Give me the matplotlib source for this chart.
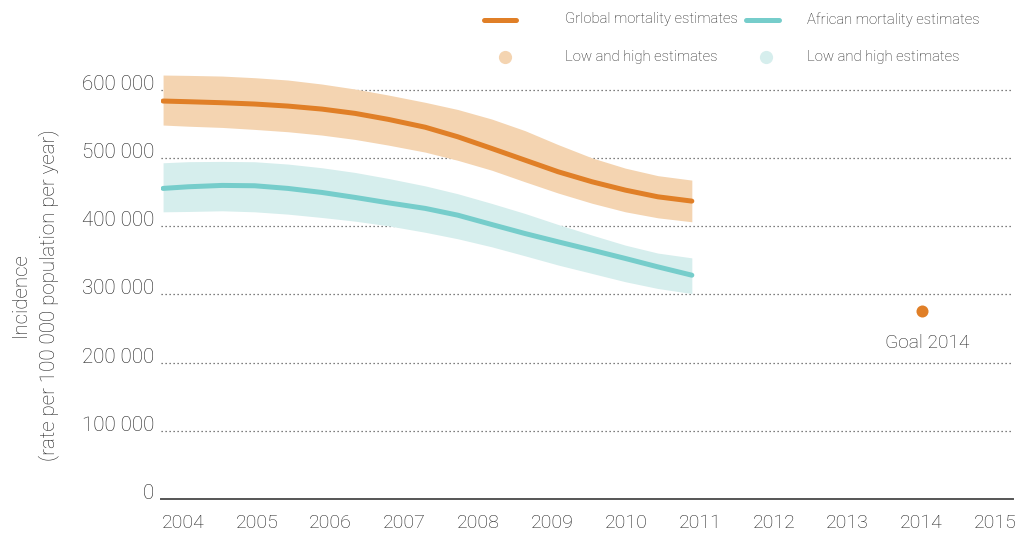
import matplotlib
matplotlib.use("Agg")
import matplotlib.pyplot as plt
from matplotlib.lines import Line2D

# ---------------- data ----------------
years = [2003.73, 2004.07, 2004.53, 2004.97, 2005.42, 2005.88, 2006.33, 2006.78,
         2007.28, 2007.72, 2008.18, 2008.63, 2009.08, 2009.54, 2009.99, 2010.43, 2010.89]

global_mid = [583400, 582400, 580900, 579000, 576000, 571600, 565300, 556500,
              545000, 531000, 513900, 496800, 479700, 465000, 452800, 443000, 436700]
global_high = [621500, 621000, 620000, 617600, 614200, 608300, 601000, 592200,
               581500, 571000, 557000, 540000, 519500, 500000, 485000, 474000, 467500]
global_low = [548200, 546500, 544700, 541800, 538400, 533500, 527100, 518800,
              508500, 496500, 482000, 465000, 448500, 433500, 421000, 412200, 406400]

africa_mid = [455300, 457700, 459700, 459200, 455300, 449400, 442100, 434200,
              426000, 416100, 402400, 389200, 377000, 364800, 352600, 340300, 328100]
africa_high = [492900, 494500, 494900, 494400, 491000, 485600, 478700, 469900,
               459000, 447500, 433300, 418600, 402400, 386800, 372100, 360500, 353500]
africa_low = [421000, 421500, 422500, 421000, 417600, 412700, 407300, 400500,
              391000, 381500, 369700, 356500, 343000, 330600, 318500, 308600, 301200]

goal_year = [2014]
goal_value = [276000]

xtick_years = list(range(2004, 2016))
ytick_values = [0, 100000, 200000, 300000, 400000, 500000, 600000]
ytick_labels = ["0", "100 000", "200 000", "300 000", "400 000", "500 000", "600 000"]

legend_labels = ["Grlobal mortality estimates", "African mortality estimates",
                 "Low and high estimates", "Low and high estimates"]

# ---------------- style ----------------
ORANGE = "#E07F27"
ORANGE_BAND = "#F4D4B1"
TEAL = "#76CDCB"
TEAL_BAND = "#D6EEED"
TEXT = "#1E1E1E"
W, H = 1015, 535

plt.rcParams["font.family"] = ["Roboto", "DejaVu Sans"]
plt.rcParams["font.weight"] = "light"

fig = plt.figure(figsize=(W / 100, H / 100), dpi=100)
ax = fig.add_axes([161 / W, 1 - 499 / H, (1013 - 161) / W, (499 - 60) / H])

ax.fill_between(years, global_low, global_high, color=ORANGE_BAND, linewidth=0, zorder=1)
ax.fill_between(years, africa_low, africa_high, color=TEAL_BAND, linewidth=0, zorder=1)
ax.plot(years, global_mid, color=ORANGE, linewidth=3.6, solid_capstyle="round", zorder=3)
ax.plot(years, africa_mid, color=TEAL, linewidth=3.6, solid_capstyle="round", zorder=3)

ax.scatter(goal_year, goal_value, s=75, color=ORANGE, zorder=4, linewidths=0)
ax.annotate("Goal 2014", (goal_year[0], goal_value[0]), xytext=(4, -23),
            textcoords="offset points", ha="center", va="center",
            fontsize=13.8, color=TEXT)

ax.set_xlim(2003.702, 2015.239)
ax.set_ylim(0, 643548)

# dotted grid
for v in ytick_values[1:]:
    ax.axhline(v, color="#555555", linewidth=0.9, linestyle=(0, (1, 2.2)), zorder=0)

ax.set_xticks(xtick_years)
ax.set_xticklabels([str(y) for y in xtick_years])
ax.set_yticks(ytick_values)
ax.set_yticklabels(ytick_labels)
ax.tick_params(axis="both", length=0, labelsize=14, labelcolor=TEXT)
ax.tick_params(axis="x", pad=11)
ax.tick_params(axis="y", pad=5, labelsize=14.8)
for lbl in ax.get_yticklabels():
    lbl.set_verticalalignment("baseline")

for s in ["top", "right", "left"]:
    ax.spines[s].set_visible(False)
ax.spines["bottom"].set_color("#555555")
ax.spines["bottom"].set_linewidth(1.4)

fig.text(35 / W, 1 - 295 / H,
         "Incidence\n(rate per 100 000 population per year)",
         rotation=90, ha="center", va="center", fontsize=14.8, color=TEXT,
         linespacing=1.55, multialignment="center")

# legend (manual layout)
def fx(px):
    return px / W

def fy(py):
    return 1 - py / H

row1, row2 = 19.5, 57
fig.add_artist(Line2D([fx(484), fx(516)], [fy(row1), fy(row1)], color=ORANGE,
                      linewidth=3.6, solid_capstyle="round"))
fig.add_artist(Line2D([fx(746), fx(779)], [fy(row1), fy(row1)], color=TEAL,
                      linewidth=3.6, solid_capstyle="round"))
fig.add_artist(Line2D([fx(505)], [fy(row2)], marker="o", markersize=9.5,
                      markerfacecolor=ORANGE_BAND, markeredgewidth=0, linestyle="none"))
fig.add_artist(Line2D([fx(766)], [fy(row2)], marker="o", markersize=9.5,
                      markerfacecolor=TEAL_BAND, markeredgewidth=0, linestyle="none"))
for (x, y), txt in zip([(565, row1), (807, row1), (565, row2), (807, row2)], legend_labels):
    fig.text(fx(x), fy(y), txt, ha="left", va="center", fontsize=10.7, color=TEXT)

fig.savefig("out.png", dpi=100)
